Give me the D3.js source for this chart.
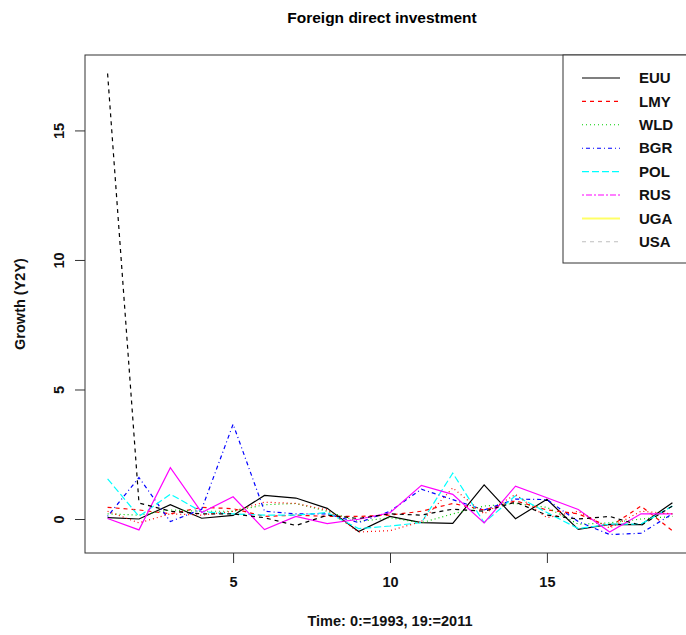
<!DOCTYPE html>
<html><head><meta charset="utf-8">
<script src="https://cdn.jsdelivr.net/npm/d3@7"></script>
<style>body{margin:0;background:#fff}svg{display:block;font-family:"Liberation Sans",Arial,Helvetica,sans-serif}</style>
</head><body><svg id="c" width="686" height="635"></svg>
<script>
const time = d3.range(1, 20);
const seriesNames = ["EUU","LMY","WLD","BGR","POL","RUS","UGA","USA"];
const EUU = [0.05,0.0,0.55,0.03,0.14,0.91,0.81,0.41,-0.48,0.1,-0.14,-0.17,1.32,0.01,0.76,-0.4,-0.21,-0.22,0.63];
const LMY = [0.45,0.35,0.2,0.45,0.4,0.1,0.15,0.1,0.1,0.15,0.3,0.6,0.35,0.7,0.35,0.2,-0.3,0.5,-0.45];
const WLD = [0.2,0.15,0.35,0.3,0.3,0.55,0.6,0.3,-0.1,0.05,-0.15,0.2,0.5,0.6,0.45,-0.2,-0.15,0.0,0.1];
const BGR = [0.1,1.6,-0.1,0.38,3.66,0.3,0.2,0.2,-0.14,0.3,1.15,0.75,0.35,0.77,0.75,-0.1,-0.6,-0.55,0.2];
const POL = [1.55,0.1,0.96,0.28,0.2,0.15,0.15,0.25,-0.37,-0.27,-0.14,1.77,-0.14,0.9,0.25,-0.37,-0.2,-0.2,0.5];
const RUS = [0.02,-0.42,1.98,0.25,0.86,-0.41,0.1,-0.18,-0.01,0.24,1.3,0.95,-0.15,1.27,0.82,0.37,-0.5,0.2,0.2];
const UGA = [17.2,0.62,0.3,0.2,0.2,0.05,-0.25,0.15,0.02,0.2,0.15,0.38,0.3,0.65,0.15,0.0,0.1,-0.25,0.5];
const USA = [0.3,-0.15,0.2,0.15,0.3,0.65,0.6,0.35,-0.5,-0.45,-0.1,1.2,0.2,0.95,0.05,0.3,-0.35,0.3,0.2];
const seriesValues = [EUU,LMY,WLD,BGR,POL,RUS,UGA,USA];
const xTicks = [5,10,15];
const yTicks = [0,5,10,15];
const titleText = "Foreign direct investment";
const xLabel = "Time: 0:=1993, 19:=2011";
const yLabel = "Growth (Y2Y)";

// R matplot default styles (col 1:6, lty 1:5 cycling)
const rCols = ["#000000","#FF0000","#00CD00","#0000FF","#00FFFF","#FF00FF","#FFFF00","#BEBEBE"];
const rLty = [null,"4,4","1,3","1,3,4,3","7,3","2,2,6,2"];
const plotCol = i => rCols[i % 6];
const plotLty = i => rLty[i % 5];
// legend styles (col 1:8, lty 1:6 cycling)
const legCol = i => rCols[i];
const legLty = i => rLty[i % 6];

const svg = d3.select("#c");
const L = 85, R = 695, T = 55, B = 553;
const allV = seriesValues.flat();
const ymin = d3.min(allV), ymax = d3.max(allV);
const ypad = (ymax - ymin) * 0.04, xpad = (19 - 1) * 0.04;
const x = d3.scaleLinear().domain([1 - xpad, 19 + xpad]).range([L, R]);
const y = d3.scaleLinear().domain([ymin - ypad, ymax + ypad]).range([B, T]);

const line = d3.line().x((d, i) => x(time[i])).y(d => y(d));
seriesValues.forEach((vals, i) => {
  svg.append("path").attr("d", line(vals)).attr("fill", "none")
    .attr("stroke", plotCol(i)).attr("stroke-width", 1.2)
    .attr("stroke-dasharray", plotLty(i));
});

// box
svg.append("rect").attr("x", L).attr("y", T).attr("width", R - L).attr("height", B - T)
  .attr("fill", "none").attr("stroke", "#333").attr("stroke-width", 1);

// axes
const xAx = svg.append("g").attr("transform", `translate(0,${B})`)
  .call(d3.axisBottom(x).tickValues(xTicks).tickSize(10).tickPadding(14).tickFormat(d3.format("d")));
const yAx = svg.append("g").attr("transform", `translate(${L},0)`)
  .call(d3.axisLeft(y).tickValues(yTicks).tickSize(10).tickFormat(d3.format("d")));
[xAx, yAx].forEach(g => {
  g.select(".domain").remove();
  g.selectAll("line").attr("stroke", "#333");
  g.selectAll("text").attr("font-size", 14.5).attr("font-weight", "bold").attr("fill", "#111")
    .attr("font-family", "Liberation Sans, Arial, sans-serif");
});
yAx.selectAll("text").attr("x", null).attr("dy", null)
  .attr("text-anchor", "middle")
  .attr("transform", "translate(-26,0) rotate(-90)")
  .attr("y", 0).attr("dy", "0.35em");

// labels
svg.append("text").attr("x", (L + R) / 2 - 8).attr("y", 23).attr("text-anchor", "middle")
  .attr("font-size", 15.5).attr("font-weight", "bold").text(titleText);
svg.append("text").attr("x", (L + R) / 2).attr("y", 626).attr("text-anchor", "middle")
  .attr("font-size", 14.5).attr("font-weight", "bold").attr("fill", "#111").text(xLabel);
svg.append("text").attr("transform", `translate(25,${(T + B) / 2}) rotate(-90)`)
  .attr("text-anchor", "middle").attr("font-size", 14.5).attr("font-weight", "bold").attr("fill", "#111").text(yLabel);

// legend
const lg = svg.append("g");
lg.append("rect").attr("x", 563).attr("y", T).attr("width", R - 563).attr("height", 208)
  .attr("fill", "#fff").attr("stroke", "#333");
seriesNames.forEach((n, i) => {
  const yy = 78 + i * 23.4;
  lg.append("line").attr("x1", 582).attr("x2", 620).attr("y1", yy).attr("y2", yy)
    .attr("stroke", legCol(i)).attr("stroke-width", i === 6 ? 2 : 1.1).attr("stroke-dasharray", legLty(i))
    .attr("stroke-opacity", i === 6 ? 0.6 : 1);
  lg.append("text").attr("x", 639).attr("y", yy).attr("dy", "0.35em")
    .attr("font-size", 15).attr("font-weight", "bold").attr("fill", "#111").text(n);
});
</script></body></html>
